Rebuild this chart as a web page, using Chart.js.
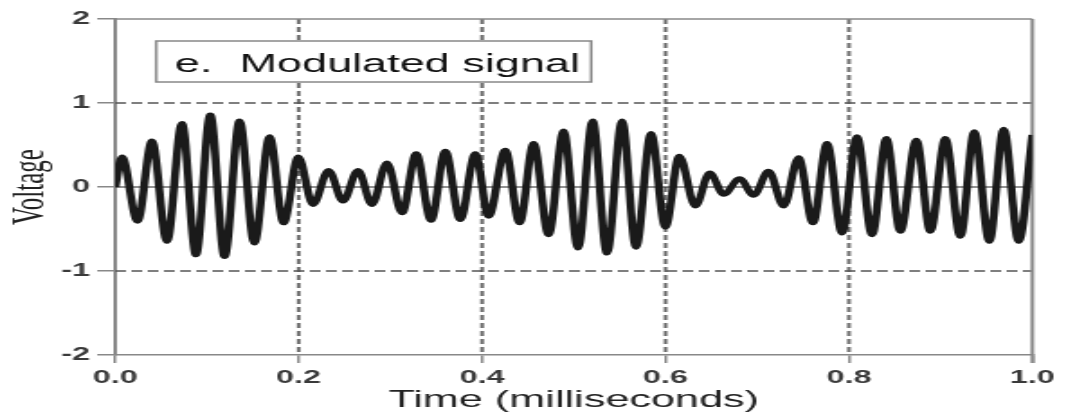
<!DOCTYPE html>
<html>
<head>
<meta charset="utf-8">
<script src="https://cdn.jsdelivr.net/npm/chart.js@4.4.1/dist/chart.umd.min.js"></script>
<style>
  html, body { margin: 0; padding: 0; background: #fff; overflow: hidden; }
  /* the reference is a horizontally stretched figure, so draw narrow and stretch */
  #wrap { position: relative; width: 592px; height: 416px; transform: scaleX(1.8007); transform-origin: 0 0; }
</style>
</head>
<body>
<div id="wrap"><canvas id="chart"></canvas></div>
<script>
// peaks and troughs (time in ms, voltage)
const times = [0, 0.0073, 0.0243, 0.0400, 0.0564, 0.0727, 0.0880, 0.1036, 0.1192, 0.1356, 0.1516,
  0.1683, 0.1835, 0.1996, 0.2156, 0.2326, 0.2483, 0.2647, 0.2799, 0.2963, 0.3127, 0.3282, 0.3443,
  0.3599, 0.3762, 0.3926, 0.4071, 0.4253, 0.4409, 0.4562, 0.4725, 0.4889, 0.5046, 0.5205, 0.5362,
  0.5526, 0.5678, 0.5842, 0.5998, 0.6151, 0.6325, 0.6481, 0.6634, 0.6808, 0.6961, 0.7124, 0.7288,
  0.7451, 0.7608, 0.7761, 0.7925, 0.8088, 0.8252, 0.8408, 0.8560, 0.8735, 0.8888, 0.9051, 0.9215,
  0.9367, 0.9531, 0.9687, 0.9851, 1.0];
const volts = [0, 0.36, -0.41, 0.55, -0.65, 0.76, -0.81, 0.86, -0.83, 0.79, -0.67,
  0.60, -0.43, 0.36, -0.21, 0.20, -0.17, 0.20, -0.21, 0.29, -0.31, 0.40, -0.40,
  0.43, -0.39, 0.40, -0.35, 0.44, -0.43, 0.52, -0.57, 0.67, -0.73, 0.79, -0.79,
  0.79, -0.72, 0.64, -0.48, 0.37, -0.23, 0.17, -0.09, 0.10, -0.10, 0.19, -0.23,
  0.35, -0.43, 0.52, -0.55, 0.60, -0.57, 0.58, -0.53, 0.56, -0.53, 0.58, -0.59,
  0.66, -0.65, 0.69, -0.65, 0.62];
const xTicks = [0, 0.2, 0.4, 0.6, 0.8, 1.0];
const yTicks = [-2, -1, 0, 1, 2];
const boxTag = 'e.';
const boxText = 'Modulated signal';

const points = times.map((t, i) => ({ x: t, y: volts[i] }));

const gridLines = {
  id: 'gridLines',
  beforeDatasetsDraw(chart) {
    const { ctx, chartArea: a, scales: { x, y } } = chart;
    ctx.save();
    // inner vertical dashed lines
    ctx.strokeStyle = '#6a6a6a';
    ctx.lineWidth = 2;
    ctx.setLineDash([5, 3]);
    x.ticks.forEach(t => {
      if (t.value <= x.min || t.value >= x.max) return;
      const px = x.getPixelForValue(t.value);
      ctx.beginPath(); ctx.moveTo(px, a.top); ctx.lineTo(px, a.bottom); ctx.stroke();
    });
    // horizontal dashed lines at +-1
    ctx.strokeStyle = '#555';
    ctx.lineWidth = 1.5;
    ctx.setLineDash([6, 3]);
    y.ticks.forEach(t => {
      if (t.value <= y.min || t.value >= y.max || t.value === 0) return;
      const py = y.getPixelForValue(t.value);
      ctx.beginPath(); ctx.moveTo(a.left, py); ctx.lineTo(a.right, py); ctx.stroke();
    });
    // zero line
    ctx.setLineDash([]);
    ctx.strokeStyle = '#222';
    ctx.lineWidth = 1.2;
    const p0 = y.getPixelForValue(0);
    ctx.beginPath(); ctx.moveTo(a.left, p0); ctx.lineTo(a.right, p0); ctx.stroke();
    // top and right frame
    ctx.strokeStyle = '#888';
    ctx.lineWidth = 1.5;
    ctx.beginPath(); ctx.moveTo(a.left, a.top); ctx.lineTo(a.right, a.top); ctx.stroke();
    ctx.lineWidth = 2;
    ctx.beginPath(); ctx.moveTo(a.right, a.top); ctx.lineTo(a.right, a.bottom + 8); ctx.stroke();
    ctx.restore();
  }
};

const labelBox = {
  id: 'labelBox',
  afterDatasetsDraw(chart) {
    const { ctx } = chart;
    ctx.save();
    ctx.fillStyle = '#fff';
    ctx.strokeStyle = '#888';
    ctx.lineWidth = 1.5;
    ctx.fillRect(86.7, 41, 241.6, 41);
    ctx.strokeRect(86.7, 41, 241.6, 41);
    ctx.fillStyle = '#111';
    ctx.font = '25px "Liberation Sans", Arial, sans-serif';
    ctx.textBaseline = 'alphabetic';
    ctx.fillText(boxTag, 97, 72);
    ctx.fillText(boxText, 133, 72);
    ctx.restore();
  }
};

new Chart(document.getElementById('chart'), {
  type: 'line',
  data: {
    datasets: [{
      data: points,
      borderColor: '#1a1a1a',
      borderWidth: 4.5,
      pointRadius: 0,
      cubicInterpolationMode: 'monotone',
      fill: false
    }]
  },
  options: {
    responsive: true,
    maintainAspectRatio: false,
    animation: false,
    layout: { padding: { top: 19, right: 18.7, left: 0, bottom: 0 } },
    plugins: { legend: { display: false }, tooltip: { enabled: false } },
    scales: {
      x: {
        type: 'linear',
        min: 0, max: 1,
        afterBuildTicks: s => { s.ticks = xTicks.map(v => ({ value: v })); },
        afterFit: s => { s.height = 61; },
        grid: { drawOnChartArea: false, drawTicks: true, tickLength: 8, color: '#888', lineWidth: 1.5 },
        border: { display: true, color: '#888', width: 1.5 },
        ticks: {
          color: '#3a3a3a', padding: 4, maxRotation: 0,
          font: { family: '"Liberation Sans", Arial, sans-serif', size: 18, weight: 'bold' },
          callback: v => v.toFixed(1)
        },
        title: {
          display: true, text: 'Time (milliseconds)', color: '#222',
          font: { family: '"Liberation Sans", Arial, sans-serif', size: 24, lineHeight: 1 },
          padding: { top: 0, bottom: 4 }
        }
      },
      y: {
        min: -2, max: 2,
        afterBuildTicks: s => { s.ticks = yTicks.map(v => ({ value: v })); },
        afterFit: s => { s.width = 64; },
        grid: { drawOnChartArea: false, drawTicks: true, tickLength: 10, color: '#888', lineWidth: 1.5 },
        border: { display: true, color: '#888', width: 2 },
        ticks: {
          color: '#3a3a3a', padding: 4,
          font: { family: '"Liberation Sans", Arial, sans-serif', size: 18, weight: 'bold' },
          callback: v => String(v)
        },
        title: {
          display: true, text: 'Voltage', color: '#222',
          font: { family: '"Liberation Serif", "Times New Roman", serif', size: 25, lineHeight: 1 },
          padding: { top: 5, bottom: 0 }
        }
      }
    }
  },
  plugins: [gridLines, labelBox]
});
</script>
</body>
</html>
